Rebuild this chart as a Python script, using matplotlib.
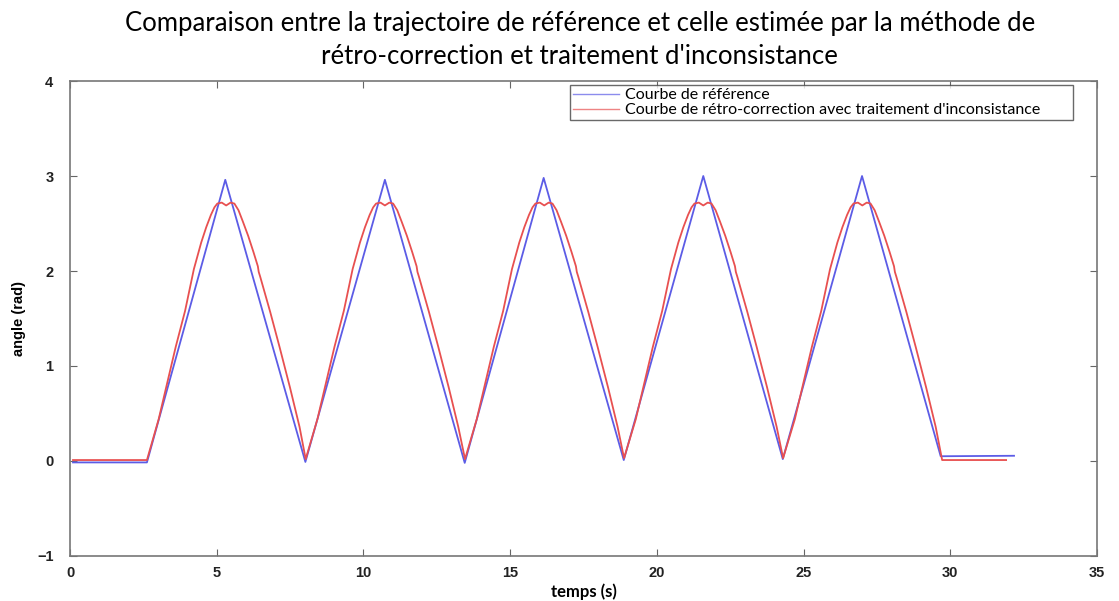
import matplotlib
matplotlib.use("Agg")
import matplotlib.pyplot as plt

# reference trajectory (vertices of the triangle wave)
t_ref = [0.1, 2.62, 5.29, 8.02, 10.73, 13.45, 16.14, 18.87, 21.58, 24.29, 26.99, 29.67, 32.17]
y_ref = [-0.015, -0.015, 2.96, -0.01, 2.96, -0.02, 2.98, 0.01, 3.00, 0.02, 3.00, 0.05, 0.055]

# estimated trajectory (retro-correction + inconsistency handling), read point by point
t_est = [0.1, 2.62,
         3.02, 3.60, 3.92, 4.17, 4.22, 4.47, 4.64, 4.80, 4.92, 5.02, 5.17, 5.32, 5.47, 5.60, 5.74, 5.89,
         6.07, 6.25, 6.40, 6.43, 6.48, 6.82, 7.14, 7.49, 7.82, 8.03,
         8.43, 9.01, 9.33, 9.58, 9.63, 9.88, 10.05, 10.21, 10.33, 10.43, 10.58, 10.73, 10.88, 11.01, 11.15, 11.30,
         11.48, 11.66, 11.81, 11.84, 11.89, 12.23, 12.55, 12.90, 13.23, 13.46,
         13.86, 14.44, 14.76, 15.01, 15.06, 15.31, 15.48, 15.64, 15.76, 15.86, 16.01, 16.16, 16.31, 16.44, 16.58, 16.73,
         16.91, 17.09, 17.24, 17.27, 17.32, 17.66, 17.98, 18.33, 18.66, 18.88,
         19.28, 19.86, 20.18, 20.43, 20.48, 20.73, 20.90, 21.06, 21.18, 21.28, 21.43, 21.58, 21.73, 21.86, 22.00, 22.15,
         22.33, 22.51, 22.66, 22.69, 22.74, 23.08, 23.40, 23.75, 24.08, 24.30,
         24.70, 25.28, 25.60, 25.85, 25.90, 26.15, 26.32, 26.48, 26.60, 26.70, 26.85, 27.00, 27.15, 27.28, 27.42, 27.57,
         27.75, 27.93, 28.08, 28.11, 28.16, 28.50, 28.82, 29.17, 29.50, 29.72,
         31.90]
y_est = [0.01, 0.01,
         0.44, 1.20, 1.58, 1.95, 2.02, 2.30, 2.46, 2.59, 2.67, 2.71, 2.72, 2.69, 2.72, 2.71, 2.64, 2.52,
         2.37, 2.20, 2.05, 1.99, 1.94, 1.57, 1.20, 0.78, 0.36, 0.02,
         0.44, 1.20, 1.58, 1.95, 2.02, 2.30, 2.46, 2.59, 2.67, 2.71, 2.72, 2.69, 2.72, 2.71, 2.64, 2.52,
         2.37, 2.20, 2.05, 1.99, 1.94, 1.57, 1.20, 0.78, 0.36, 0.02,
         0.44, 1.20, 1.58, 1.95, 2.02, 2.30, 2.46, 2.59, 2.67, 2.71, 2.72, 2.69, 2.72, 2.71, 2.64, 2.52,
         2.37, 2.20, 2.05, 1.99, 1.94, 1.57, 1.20, 0.78, 0.36, 0.03,
         0.44, 1.20, 1.58, 1.95, 2.02, 2.30, 2.46, 2.59, 2.67, 2.71, 2.72, 2.69, 2.72, 2.71, 2.64, 2.52,
         2.37, 2.20, 2.05, 1.99, 1.94, 1.57, 1.20, 0.78, 0.36, 0.03,
         0.44, 1.20, 1.58, 1.95, 2.02, 2.30, 2.46, 2.59, 2.67, 2.71, 2.72, 2.69, 2.72, 2.71, 2.64, 2.52,
         2.37, 2.20, 2.05, 1.99, 1.94, 1.57, 1.20, 0.78, 0.36, 0.01,
         0.01]

x_ticks = [0, 5, 10, 15, 20, 25, 30, 35]
y_ticks = [-1, 0, 1, 2, 3, 4]

title = ("Comparaison entre la trajectoire de référence et celle estimée par la méthode de\n"
         "rétro-correction et traitement d'inconsistance")

fig = plt.figure(figsize=(11.19, 6.01), dpi=100)
ax = fig.add_axes([0.0626, 0.0749, 0.9178, 0.7903])

ax.plot(t_ref, y_ref, color="#5c5ce6", lw=1.3, label="Courbe de référence")
ax.plot(t_est, y_est, color="#e85050", lw=1.3,
        label="Courbe de rétro-correction avec traitement d'inconsistance")

ax.set_xlim(0, 35)
ax.set_ylim(-1, 4)
ax.set_xticks(x_ticks)
ax.set_yticks(y_ticks)
ax.tick_params(direction="in", top=True, right=True, length=5, color="#666666",
               labelsize=10.5, labelcolor="#222222")
ax.tick_params(axis="y", pad=12)
ax.tick_params(axis="x", pad=7)
for lab in ax.get_xticklabels() + ax.get_yticklabels():
    lab.set_fontfamily("Liberation Sans")
    lab.set_fontweight("bold")
for sp in ax.spines.values():
    sp.set_color("#777777")
    sp.set_linewidth(1.2)

ax.set_xlabel("temps (s)", fontsize=12, fontweight="bold", family="Lato", labelpad=3)
ax.set_ylabel("angle (rad)", fontsize=10.5, fontweight="bold", family="Liberation Sans", labelpad=8)

fig.text(0.518, 0.981, title, ha="center", va="top", fontsize=18.5, family="Lato",
         linespacing=1.37)

leg = ax.legend(loc="upper left", bbox_to_anchor=(0.4864, 0.0, 0.4903, 0.992), mode="expand",
                prop={"family": "Lato", "size": 11.5},
                frameon=True, fancybox=False, handlelength=2.9, handletextpad=0.4,
                borderpad=0.2, labelspacing=0.05, borderaxespad=0)
leg.get_frame().set_edgecolor("#444444")
leg.get_frame().set_linewidth(1.0)
for ln in leg.get_lines():
    ln.set_linewidth(1.0)
    ln.set_alpha(0.7)

fig.savefig("out.png", dpi=100)
